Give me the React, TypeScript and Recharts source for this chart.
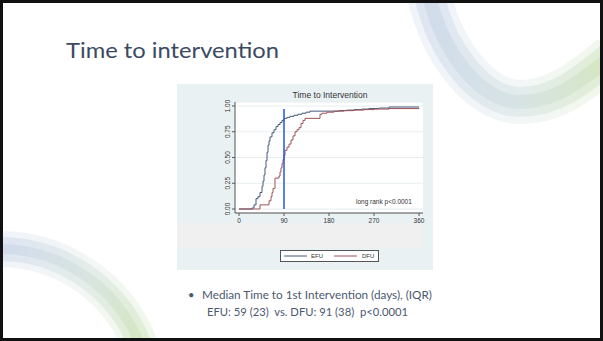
import { LineChart, Line, XAxis, YAxis, CartesianGrid, ReferenceLine } from 'recharts'

// Kaplan-Meier style cumulative share with an intervention
const efuDays  = [0, 26, 30, 34, 38, 42, 46, 48, 50, 52, 54, 56, 58, 60, 62, 66, 70, 74, 78, 82, 86, 90, 96, 102, 110, 118, 126, 134, 142, 200, 215, 230, 245, 260, 280, 300, 360]
const efuShare = [0, 0.01, 0.04, 0.1, 0.12, 0.16, 0.22, 0.27, 0.33, 0.4, 0.47, 0.55, 0.62, 0.66, 0.7, 0.74, 0.77, 0.8, 0.82, 0.84, 0.86, 0.88, 0.89, 0.9, 0.91, 0.92, 0.93, 0.94, 0.95, 0.955, 0.96, 0.965, 0.97, 0.975, 0.98, 0.99, 0.99]
const dfuDays  = [0, 42, 60, 64, 66, 68, 72, 80, 82, 84, 86, 88, 90, 92, 96, 100, 104, 108, 112, 116, 120, 124, 128, 132, 162, 166, 176, 190, 210, 230, 250, 270, 300, 360]
const dfuShare = [0, 0.04, 0.08, 0.12, 0.16, 0.2, 0.3, 0.32, 0.36, 0.4, 0.44, 0.48, 0.52, 0.57, 0.6, 0.63, 0.67, 0.71, 0.75, 0.77, 0.79, 0.83, 0.86, 0.88, 0.92, 0.93, 0.94, 0.95, 0.955, 0.96, 0.965, 0.97, 0.975, 0.98]

const seriesNames = ['EFU', 'DFU']
const xTicks = [0, 90, 180, 270, 360]
const yTicks = [0, 0.25, 0.5, 0.75, 1]
const markDay = 90
const markTop = 0.97

const slideTitle = 'Time to intervention'
const chartTitle = 'Time to Intervention'
const testNote = 'long rank p<0.0001'
const bulletLines = [
  'Median Time to 1st Intervention (days), (IQR)',
  'EFU: 59 (23)  vs. DFU: 91 (38)  p<0.0001',
]

const efuData = efuDays.map((day, i) => ({ day, share: efuShare[i] }))
const dfuData = dfuDays.map((day, i) => ({ day, share: dfuShare[i] }))

const EFU_COLOR = '#44597a'
const DFU_COLOR = '#9e5258'
const CHART_FONT = '"Liberation Sans", Arial, sans-serif'
const SLIDE_FONT = 'Lato, "Open Sans", sans-serif'

function YTick({ x, y, payload }: any) {
  return (
    <text
      x={x}
      y={y}
      transform={`rotate(-90 ${x} ${y})`}
      textAnchor="middle"
      fontSize={6.5}
      fontFamily={CHART_FONT}
      fill="#333"
    >
      {Number(payload.value).toFixed(2)}
    </text>
  )
}

const TOP_SWOOSH = 'M 428 -10 C 440 50, 480 102, 520 102 C 555 102, 580 82, 612 56'
const LOW_SWOOSH = 'M -5 249 A 151 151 0 0 1 140 345'

function Decor() {
  return (
    <svg width={603} height={341} style={{ position: 'absolute', left: 0, top: 0 }}>
      <defs>
        <linearGradient id="swTop" x1="420" y1="0" x2="603" y2="0" gradientUnits="userSpaceOnUse">
          <stop offset="0" stopColor="#bccbe4" />
          <stop offset="0.55" stopColor="#c6d8d8" />
          <stop offset="1" stopColor="#c2dcaa" />
        </linearGradient>
        <linearGradient id="swLow" x1="0" y1="250" x2="140" y2="341" gradientUnits="userSpaceOnUse">
          <stop offset="0" stopColor="#bccbe4" />
          <stop offset="0.5" stopColor="#c8d9d4" />
          <stop offset="1" stopColor="#c2dcaa" />
        </linearGradient>
      </defs>
      <rect x={0} y={0} width={603} height={341} fill="#fff" />

      <path d={TOP_SWOOSH} fill="none" stroke="url(#swTop)" strokeWidth={44} opacity={0.22} />
      <path d={TOP_SWOOSH} fill="none" stroke="url(#swTop)" strokeWidth={30} opacity={0.35} />
      <path d={TOP_SWOOSH} fill="none" stroke="url(#swTop)" strokeWidth={14} opacity={0.4} />

      <path d={LOW_SWOOSH} fill="none" stroke="url(#swLow)" strokeWidth={36} opacity={0.22} />
      <path d={LOW_SWOOSH} fill="none" stroke="url(#swLow)" strokeWidth={24} opacity={0.35} />
      <path d={LOW_SWOOSH} fill="none" stroke="url(#swLow)" strokeWidth={10} opacity={0.4} />

      <text x={66} y={58} fontFamily={SLIDE_FONT} fontSize={22} fill="#3b4a63" textLength={213} lengthAdjust="spacingAndGlyphs">
        {slideTitle}
      </text>

      {/* Stata graph region */}
      <rect x={177} y={84} width={256} height={186} fill="#eaf1f3" />
      <rect x={177} y={223} width={245} height={25} fill="#f0f0f0" />
      <text x={330} y={98} textAnchor="middle" fontFamily={CHART_FONT} fontSize={8.5} fill="#333">
        {chartTitle}
      </text>

      {/* legend */}
      <rect x={280.5} y={250.5} width={98} height={11} fill="#fff" stroke="#555" strokeWidth={1} />
      <line x1={284} x2={307} y1={256} y2={256} stroke={EFU_COLOR} strokeWidth={1} />
      <text x={311} y={258.2} fontFamily={CHART_FONT} fontSize={6} fill="#333">{seriesNames[0]}</text>
      <line x1={334} x2={357} y1={256} y2={256} stroke={DFU_COLOR} strokeWidth={1} />
      <text x={362} y={258.2} fontFamily={CHART_FONT} fontSize={6} fill="#333">{seriesNames[1]}</text>

      <text x={188} y={299} fontFamily={SLIDE_FONT} fontSize={11} fill="#4b5870">•</text>
      <text x={202} y={299} fontFamily={SLIDE_FONT} fontSize={11} fill="#4b5870" textLength={230} lengthAdjust="spacingAndGlyphs">
        {bulletLines[0]}
      </text>
      <text x={207} y={316} fontFamily={SLIDE_FONT} fontSize={11} fill="#4b5870" textLength={201} lengthAdjust="spacingAndGlyphs" style={{ whiteSpace: 'pre' }}>
        {bulletLines[1]}
      </text>
    </svg>
  )
}

export default function App() {
  return (
    <div style={{ position: 'absolute', left: 0, top: 0, width: 603, height: 341, overflow: 'hidden', background: '#fff' }}>
      <Decor />
      <div style={{ position: 'absolute', left: 177, top: 84 }}>
        <LineChart width={256} height={186} margin={{ top: 18, right: 10, bottom: 45, left: 42 }}>
          <CartesianGrid vertical={false} stroke="#e8eef0" fill="#fff" />
          <XAxis
            dataKey="day"
            type="number"
            domain={[0, 360]}
            ticks={xTicks}
            padding={{ left: 4, right: 4 }}
            height={12}
            tickSize={3}
            tick={{ fontSize: 6.5, fill: '#333', fontFamily: CHART_FONT }}
            axisLine={{ stroke: '#555' }}
            tickLine={{ stroke: '#555' }}
            allowDuplicatedCategory={false}
          />
          <YAxis
            type="number"
            domain={[0, 1]}
            ticks={yTicks}
            padding={{ top: 4, bottom: 4 }}
            width={16}
            tickSize={3}
            tick={<YTick />}
            axisLine={{ stroke: '#555' }}
            tickLine={{ stroke: '#555' }}
          />
          <Line data={efuData} dataKey="share" name={seriesNames[0]} type="stepAfter" stroke={EFU_COLOR} strokeWidth={1} dot={false} isAnimationActive={false} />
          <Line data={dfuData} dataKey="share" name={seriesNames[1]} type="stepAfter" stroke={DFU_COLOR} strokeWidth={1} dot={false} isAnimationActive={false} />
          <ReferenceLine segment={[{ x: markDay, y: 0 }, { x: markDay, y: markTop }]} stroke="#2357d8" strokeWidth={1.5} />
        </LineChart>
      </div>
      <svg width={603} height={341} style={{ position: 'absolute', left: 0, top: 0, pointerEvents: 'none' }}>
        <text x={356} y={204} fontFamily={CHART_FONT} fontSize={6.5} fill="#333">{testNote}</text>
      </svg>
      <div style={{ position: 'absolute', inset: 0, border: '3px solid #111', boxSizing: 'border-box' }} />
    </div>
  )
}
